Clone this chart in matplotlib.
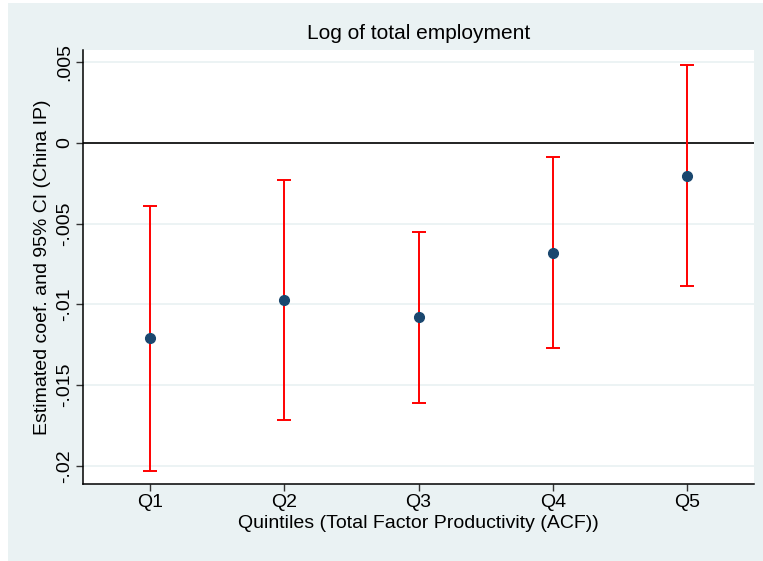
import numpy as np
import matplotlib.pyplot as plt
from matplotlib.patches import Rectangle


# quintile estimates and 95% confidence bounds
quintiles = ["Q1", "Q2", "Q3", "Q4", "Q5"]
coef = [-0.01210, -0.00975, -0.01078, -0.00681, -0.00204]
ci_low = [-0.02034, -0.01714, -0.01609, -0.01270, -0.00889]
ci_high = [-0.00388, -0.00229, -0.00550, -0.00087, 0.00483]
y_ticks = [0.005, 0, -0.005, -0.01, -0.015, -0.02]
y_tick_labels = [".005", "0", "-.005", "-.01", "-.015", "-.02"]

BG = "#EAF2F3"
NAVY = "#1A476F"

plt.rcParams["font.family"] = ["Liberation Sans", "DejaVu Sans"]


def coef_plot():
    fig = plt.figure(figsize=(7.63, 5.61), dpi=100, facecolor="white")
    # stata-like outer region, kept behind the axes
    fig.add_artist(Rectangle((8 / 763, 0), 1 - 8 / 763, 1 - 3 / 561,
                             transform=fig.transFigure, facecolor=BG,
                             edgecolor="none", zorder=-5))

    ax = fig.add_axes([83 / 763, 77 / 561, 671 / 763, 434 / 561])
    ax.set_zorder(1)
    ax.set_facecolor("white")

    x = np.arange(1, len(quintiles) + 1)
    coef_arr = np.array(coef)
    lower = coef_arr - np.array(ci_low)
    upper = np.array(ci_high) - coef_arr

    ax.axhline(0, color="black", lw=1.2, zorder=2)
    ax.errorbar(x, coef_arr, yerr=[lower, upper], fmt="none", ecolor="#FF0000",
                elinewidth=1.4, capsize=5, capthick=1.4, zorder=3)
    ax.plot(x, coef_arr, "o", color=NAVY, markersize=7, zorder=4)

    ax.set_xlim(0.5, 5.5)
    ax.set_ylim(-0.02112, 0.005755)
    ax.set_xticks(x)
    ax.set_xticklabels(quintiles, fontsize=14)
    ax.set_yticks(y_ticks)
    ax.set_yticklabels(y_tick_labels, fontsize=14, rotation=90, va="center")
    ax.grid(axis="y", color=BG, lw=1.3, zorder=1)
    ax.tick_params(length=5, width=1, color="#333333", pad=2)

    for side in ["top", "right"]:
        ax.spines[side].set_visible(False)
    for side in ["left", "bottom"]:
        ax.spines[side].set_linewidth(1.1)

    ax.set_title("Log of total employment", fontsize=15, pad=8)
    ax.set_xlabel("Quintiles (Total Factor Productivity (ACF))", fontsize=14, labelpad=3)
    ax.set_ylabel("Estimated coef. and 95% CI (China IP)", fontsize=14, labelpad=4)

    plt.savefig("out.png", dpi=100, facecolor=fig.get_facecolor())


if __name__ == "__main__":
    coef_plot()
